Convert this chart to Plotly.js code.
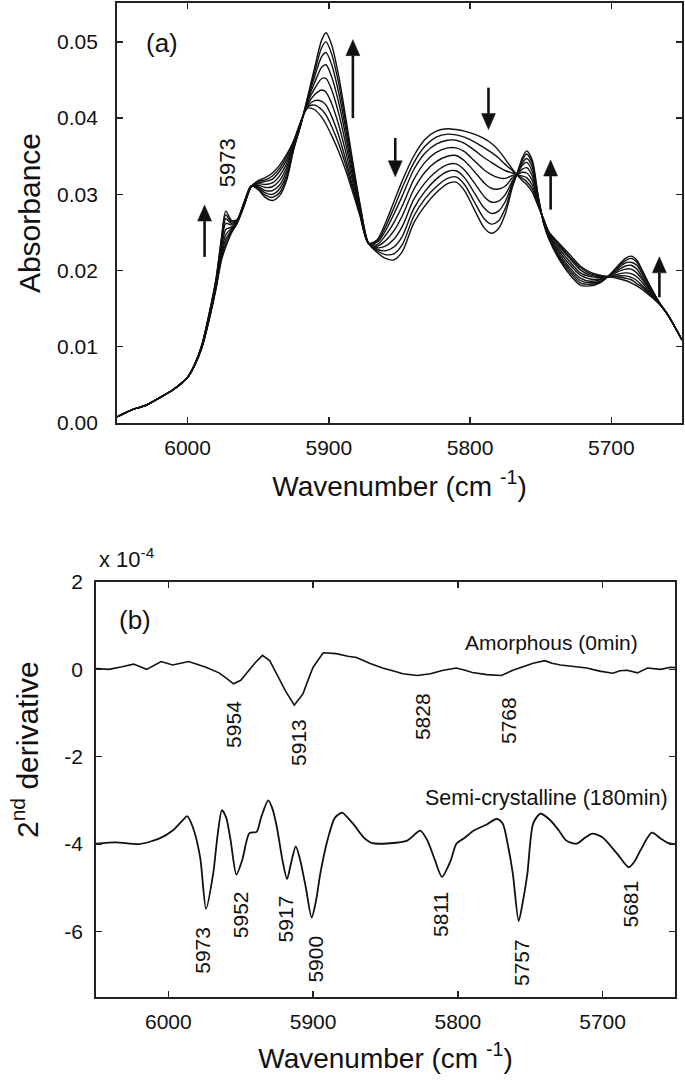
<!DOCTYPE html>
<html><head><meta charset="utf-8">
<script src="https://cdn.plot.ly/plotly-3.0.1.min.js"></script>
<style>html,body{margin:0;padding:0;background:#fff}#chart{width:685px;height:1085px}</style>
</head><body><div id="chart"></div>
<script>
// ---------- Panel (a): NIR absorbance spectra, 0 min ... 180 min ----------
const wavenumber = [6050,6040,6030,6020,6010,6000,5995,5990,5985,5980,5976,5973,5969,5965,5960,5955,5950,5945,5940,5935,5930,5925,5920,5915,5910,5905,5902,5898,5893,5888,5883,5878,5872,5866,5860,5854,5848,5840,5832,5824,5816,5810,5804,5797,5790,5785,5780,5775,5770,5767,5763,5760,5756,5752,5748,5744,5738,5730,5722,5715,5708,5702,5696,5690,5686,5682,5678,5672,5666,5660,5655,5650];

const abs_t0 = [0.0008,0.0017,0.0023,0.0033,0.0044,0.0060,0.0076,0.0098,0.0133,0.0175,0.0214,0.0231,0.0249,0.0262,0.0285,0.0310,0.0318,0.0322,0.0328,0.0338,0.0352,0.0370,0.0395,0.0413,0.0411,0.0401,0.0392,0.0377,0.0356,0.0331,0.0302,0.0272,0.0236,0.0240,0.0262,0.0290,0.0318,0.0350,0.0372,0.0383,0.0386,0.0385,0.0383,0.0379,0.0373,0.0367,0.0358,0.0346,0.0333,0.0326,0.0318,0.0313,0.0303,0.0285,0.0268,0.0250,0.0238,0.0222,0.0206,0.0198,0.0194,0.0192,0.0190,0.0187,0.0184,0.0180,0.0175,0.0166,0.0156,0.0142,0.0126,0.0109];
const abs_t1 = [0.0008,0.0017,0.0023,0.0033,0.0044,0.0060,0.0076,0.0098,0.0134,0.0176,0.0217,0.0236,0.0251,0.0262,0.0285,0.0310,0.0317,0.0319,0.0324,0.0334,0.0349,0.0369,0.0395,0.0415,0.0417,0.0411,0.0404,0.0389,0.0366,0.0338,0.0306,0.0274,0.0236,0.0238,0.0257,0.0282,0.0309,0.0341,0.0363,0.0375,0.0379,0.0378,0.0375,0.0369,0.0361,0.0355,0.0348,0.0339,0.0331,0.0326,0.0321,0.0317,0.0307,0.0287,0.0267,0.0249,0.0236,0.0219,0.0204,0.0196,0.0193,0.0192,0.0192,0.0190,0.0188,0.0183,0.0178,0.0167,0.0156,0.0142,0.0126,0.0109];
const abs_t2 = [0.0008,0.0017,0.0023,0.0033,0.0044,0.0060,0.0076,0.0099,0.0135,0.0178,0.0220,0.0241,0.0253,0.0263,0.0286,0.0310,0.0315,0.0317,0.0320,0.0330,0.0345,0.0367,0.0394,0.0416,0.0423,0.0422,0.0417,0.0402,0.0377,0.0345,0.0310,0.0275,0.0236,0.0237,0.0252,0.0274,0.0298,0.0332,0.0354,0.0366,0.0371,0.0371,0.0367,0.0358,0.0348,0.0342,0.0336,0.0331,0.0328,0.0326,0.0324,0.0322,0.0312,0.0288,0.0267,0.0248,0.0234,0.0217,0.0201,0.0194,0.0192,0.0192,0.0193,0.0193,0.0191,0.0187,0.0180,0.0169,0.0156,0.0142,0.0126,0.0109];
const abs_t3 = [0.0008,0.0017,0.0023,0.0033,0.0044,0.0060,0.0076,0.0099,0.0136,0.0180,0.0224,0.0247,0.0255,0.0264,0.0287,0.0310,0.0314,0.0313,0.0315,0.0324,0.0340,0.0366,0.0393,0.0418,0.0431,0.0437,0.0434,0.0419,0.0391,0.0355,0.0316,0.0278,0.0236,0.0234,0.0246,0.0263,0.0285,0.0319,0.0342,0.0355,0.0361,0.0361,0.0356,0.0344,0.0332,0.0326,0.0322,0.0321,0.0325,0.0326,0.0329,0.0328,0.0318,0.0290,0.0266,0.0247,0.0231,0.0213,0.0197,0.0192,0.0191,0.0192,0.0195,0.0197,0.0196,0.0192,0.0184,0.0170,0.0157,0.0142,0.0126,0.0109];
const abs_t4 = [0.0008,0.0017,0.0023,0.0033,0.0044,0.0060,0.0076,0.0100,0.0137,0.0181,0.0229,0.0254,0.0257,0.0264,0.0287,0.0310,0.0312,0.0309,0.0310,0.0318,0.0335,0.0364,0.0393,0.0421,0.0439,0.0452,0.0452,0.0437,0.0406,0.0366,0.0322,0.0280,0.0236,0.0232,0.0239,0.0252,0.0272,0.0306,0.0329,0.0343,0.0350,0.0351,0.0344,0.0330,0.0315,0.0308,0.0307,0.0311,0.0322,0.0326,0.0333,0.0335,0.0324,0.0293,0.0265,0.0245,0.0228,0.0209,0.0194,0.0189,0.0189,0.0192,0.0198,0.0202,0.0202,0.0197,0.0188,0.0172,0.0157,0.0142,0.0126,0.0109];
const abs_t5 = [0.0008,0.0017,0.0023,0.0033,0.0044,0.0060,0.0077,0.0101,0.0139,0.0183,0.0234,0.0262,0.0260,0.0265,0.0288,0.0311,0.0310,0.0305,0.0305,0.0312,0.0330,0.0362,0.0392,0.0423,0.0447,0.0467,0.0470,0.0454,0.0420,0.0376,0.0328,0.0282,0.0236,0.0230,0.0232,0.0241,0.0258,0.0293,0.0315,0.0330,0.0339,0.0340,0.0332,0.0315,0.0297,0.0290,0.0291,0.0300,0.0318,0.0326,0.0338,0.0342,0.0330,0.0295,0.0264,0.0244,0.0225,0.0205,0.0190,0.0186,0.0188,0.0193,0.0200,0.0206,0.0207,0.0202,0.0191,0.0174,0.0157,0.0142,0.0126,0.0109];
const abs_t6 = [0.0008,0.0017,0.0023,0.0033,0.0044,0.0060,0.0077,0.0101,0.0140,0.0185,0.0237,0.0268,0.0262,0.0266,0.0289,0.0311,0.0309,0.0302,0.0300,0.0307,0.0325,0.0361,0.0391,0.0425,0.0455,0.0481,0.0486,0.0470,0.0433,0.0385,0.0333,0.0284,0.0236,0.0228,0.0226,0.0231,0.0245,0.0281,0.0304,0.0320,0.0330,0.0331,0.0322,0.0302,0.0282,0.0275,0.0278,0.0291,0.0315,0.0326,0.0341,0.0347,0.0336,0.0297,0.0263,0.0242,0.0222,0.0202,0.0187,0.0184,0.0186,0.0193,0.0202,0.0210,0.0211,0.0207,0.0195,0.0175,0.0158,0.0142,0.0126,0.0109];
const abs_t7 = [0.0008,0.0017,0.0023,0.0033,0.0044,0.0060,0.0077,0.0102,0.0141,0.0187,0.0241,0.0273,0.0264,0.0266,0.0289,0.0311,0.0307,0.0299,0.0296,0.0302,0.0321,0.0359,0.0391,0.0427,0.0461,0.0493,0.0500,0.0484,0.0445,0.0393,0.0338,0.0286,0.0236,0.0226,0.0221,0.0222,0.0234,0.0271,0.0294,0.0310,0.0321,0.0323,0.0313,0.0290,0.0268,0.0261,0.0265,0.0282,0.0312,0.0326,0.0345,0.0353,0.0341,0.0299,0.0263,0.0241,0.0220,0.0199,0.0184,0.0182,0.0185,0.0193,0.0204,0.0213,0.0216,0.0211,0.0198,0.0177,0.0158,0.0142,0.0126,0.0109];
const abs_t8 = [0.0008,0.0017,0.0023,0.0033,0.0044,0.0060,0.0077,0.0102,0.0142,0.0188,0.0244,0.0278,0.0266,0.0267,0.0290,0.0311,0.0306,0.0296,0.0292,0.0298,0.0318,0.0358,0.0390,0.0428,0.0467,0.0503,0.0512,0.0496,0.0455,0.0400,0.0342,0.0288,0.0236,0.0224,0.0216,0.0214,0.0225,0.0262,0.0285,0.0302,0.0314,0.0316,0.0305,0.0280,0.0256,0.0249,0.0255,0.0275,0.0310,0.0326,0.0348,0.0357,0.0345,0.0300,0.0262,0.0240,0.0218,0.0196,0.0181,0.0180,0.0184,0.0193,0.0205,0.0216,0.0219,0.0214,0.0200,0.0178,0.0158,0.0142,0.0126,0.0109];
const spectra = [abs_t0, abs_t1, abs_t2, abs_t3, abs_t4, abs_t5, abs_t6, abs_t7, abs_t8];

// ---------- Panel (b): second derivative (units of 1e-4) ----------
const wn_amorphous = [6050,6041,6032,6024,6015,6005,5997,5986,5974,5965,5960,5955,5950,5946,5940,5935,5930,5926,5919,5913,5907,5903,5900,5893,5884,5876,5870,5861,5852,5845,5838,5828,5819,5810,5801,5795,5790,5780,5770,5762,5755,5748,5740,5735,5729,5720,5711,5702,5693,5688,5683,5676,5669,5660,5653,5650];
const d2_amorphous = [0.02,0.0,0.06,0.12,0.0,0.18,0.1,0.18,0.05,-0.08,-0.2,-0.33,-0.25,-0.09,0.15,0.32,0.2,-0.05,-0.5,-0.82,-0.56,-0.2,0.05,0.38,0.36,0.3,0.27,0.14,0.03,-0.03,-0.1,-0.14,-0.1,-0.02,0.03,-0.02,-0.07,-0.12,-0.14,-0.02,0.06,0.14,0.2,0.14,0.1,0.06,0.03,-0.04,-0.09,-0.03,-0.02,-0.08,0.03,0.0,0.05,0.04];
const wn_semicryst = [6050,6036,6020,6006,5997,5990,5987,5983,5978,5974,5969,5966,5963,5960,5957,5953,5949,5944,5939,5936,5931,5928,5925,5921,5918,5915,5912,5909,5905,5901,5898,5895,5890,5885,5880,5876,5872,5865,5859,5847,5835,5826,5821,5816,5811,5805,5801,5795,5789,5780,5773,5769,5765,5762,5758,5755,5752,5748,5743,5736,5730,5725,5718,5712,5707,5700,5690,5682,5678,5674,5666,5660,5655,5650];
const d2_semicryst = [-3.99,-3.96,-4.0,-3.87,-3.69,-3.45,-3.36,-3.62,-4.31,-5.48,-4.67,-3.8,-3.22,-3.4,-3.91,-4.7,-4.37,-3.75,-3.72,-3.4,-3.0,-3.2,-3.62,-4.4,-4.8,-4.4,-4.05,-4.35,-5.0,-5.68,-5.3,-4.67,-3.9,-3.4,-3.28,-3.4,-3.55,-3.85,-3.98,-3.98,-3.92,-3.69,-3.92,-4.35,-4.75,-4.38,-3.99,-3.85,-3.69,-3.55,-3.42,-3.53,-4.1,-4.68,-5.76,-5.3,-4.68,-3.53,-3.3,-3.46,-3.7,-3.92,-3.99,-3.85,-3.76,-3.85,-4.22,-4.53,-4.4,-4.15,-3.74,-3.87,-3.97,-4.0];

// peak labels (b)
const amorphousPeaks = [5954, 5913, 5828, 5768];
const crystPeaks = [5973, 5952, 5917, 5900, 5811, 5757, 5681];

const yTicksA = [0, 0.01, 0.02, 0.03, 0.04, 0.05];
const yTicksB = [-6, -4, -2, 0, 2];
const yTickTextB = ['-6', '-4', '-2', '0', '2'];
const xTicks = [6000, 5900, 5800, 5700];

const FONT = 'Liberation Sans, Arial, Helvetica, sans-serif';
const traces = [];
spectra.forEach((s, i) => {
  traces.push({x: wavenumber, y: s, xaxis: 'x', yaxis: 'y', mode: 'lines',
    line: {color: '#111', width: 1.4, shape: 'spline', smoothing: 0.8},
    hoverinfo: 'skip', showlegend: false});
});
traces.push({x: wn_amorphous, y: d2_amorphous, xaxis: 'x2', yaxis: 'y2', mode: 'lines',
  line: {color: '#111', width: 1.6}, showlegend: false, name: 'Amorphous (0min)'});
traces.push({x: wn_semicryst, y: d2_semicryst, xaxis: 'x2', yaxis: 'y2', mode: 'lines',
  line: {color: '#111', width: 1.8, shape: 'spline', smoothing: 0.7}, showlegend: false, name: 'Semi-crystalline (180min)'});

const axisCommon = {showline: true, linecolor: '#222', linewidth: 1.8, mirror: 'ticks', ticks: 'inside',
  ticklen: 6, tickwidth: 1.3, tickcolor: '#222', showgrid: false, zeroline: false,
  tickfont: {family: FONT, size: 21, color: '#111'}};

// arrows of panel (a) as shapes: [x, y of head tip, y of tail]
const arrowsA = [[5988, 0.0286, 0.0218], [5883, 0.0503, 0.0400], [5853, 0.0323, 0.0374],
                 [5787, 0.0385, 0.0440], [5743, 0.0345, 0.0280], [5666, 0.0218, 0.0165]];
const pxPerX = 565 / 400, pxPerY = 420 / 0.0551;
const shapes = [];
arrowsA.forEach(a => {
  const x = a[0], yh = a[1], yt = a[2];
  const dir = yh > yt ? 1 : -1;
  const hl = 16 / pxPerY, hw = 7 / pxPerX;
  const yb = yh - dir * hl;
  shapes.push({type: 'line', xref: 'x', yref: 'y', x0: x, x1: x, y0: yt, y1: yb, line: {color: '#111', width: 2.6}});
  shapes.push({type: 'path', xref: 'x', yref: 'y', path: `M ${x - hw},${yb} L ${x + hw},${yb} L ${x},${yh} Z`,
    fillcolor: '#111', line: {color: '#111', width: 0.5}});
});

const ann = [];
ann.push({x: 6018, y: 0.0499, xref: 'x', yref: 'y', text: '(a)', showarrow: false, font: {family: FONT, size: 26, color: '#111'}});
ann.push({x: 5972, y: 0.0341, xref: 'x', yref: 'y', text: '5973', textangle: -90, showarrow: false, font: {family: FONT, size: 22, color: '#111'}});
// (b) labels
ann.push({x: 6023, y: 1.13, xref: 'x2', yref: 'y2', text: '(b)', showarrow: false, font: {family: FONT, size: 26, color: '#111'}});
ann.push({x: 5735, y: 0.62, xref: 'x2', yref: 'y2', text: 'Amorphous (0min)', showarrow: false, font: {family: FONT, size: 21, color: '#111'}});
ann.push({x: 5739, y: -2.95, xref: 'x2', yref: 'y2', text: 'Semi-crystalline (180min)', showarrow: false, font: {family: FONT, size: 21.5, color: '#111'}});
const amorphLabelPos = [[5955, -1.26], [5910, -1.67], [5824, -1.09], [5765, -1.17]];
amorphousPeaks.forEach((p, i) => ann.push({x: amorphLabelPos[i][0], y: amorphLabelPos[i][1], xref: 'x2', yref: 'y2',
  text: String(p), textangle: -90, showarrow: false, font: {family: FONT, size: 21, color: '#111'}}));
const crystLabelPos = [[5976, -6.44], [5950, -5.61], [5919, -5.71], [5898, -6.62], [5812, -5.61], [5756, -6.71], [5681, -5.38]];
crystPeaks.forEach((p, i) => ann.push({x: crystLabelPos[i][0], y: crystLabelPos[i][1], xref: 'x2', yref: 'y2',
  text: String(p), textangle: -90, showarrow: false, font: {family: FONT, size: 21, color: '#111'}}));
ann.push({x: 0.141, y: 0.4857, xref: 'paper', yref: 'paper', xanchor: 'left', yanchor: 'middle',
  text: 'x 10<sup>-4</sup>', showarrow: false, font: {family: FONT, size: 22, color: '#111'}});
// y title of panel (b), placed like the reference (above the panel centre)
ann.push({x: 25 / 685, y: 1 - 750 / 1085, xref: 'paper', yref: 'paper', xanchor: 'center', yanchor: 'middle', textangle: -90,
  text: '2<sup>nd</sup> derivative', showarrow: false, font: {family: FONT, size: 30, color: '#111'}});

const layout = {
  width: 685, height: 1085, margin: {l: 0, r: 0, t: 0, b: 0}, paper_bgcolor: '#fff', plot_bgcolor: '#fff',
  font: {family: FONT, color: '#111'},
  showlegend: false,
  xaxis: Object.assign({}, axisCommon, {domain: [0.1708, 0.9956], anchor: 'y', range: [6050, 5650], tickvals: xTicks, ticklabelstandoff: 5,
    title: {text: 'Wavenumber (cm <sup>-1</sup>)', font: {family: FONT, size: 28, color: '#111'}, standoff: 18}}),
  yaxis: Object.assign({}, axisCommon, {domain: [0.6101, 0.9972], anchor: 'x', range: [0, 0.0551], tickvals: yTicksA, tickformat: '.2f', ticklabelstandoff: 13,
    title: {text: 'Absorbance', font: {family: FONT, size: 30, color: '#111'}, standoff: 8}}),
  xaxis2: Object.assign({}, axisCommon, {domain: [0.1401, 0.9854], anchor: 'y2', range: [6050, 5650], tickvals: xTicks, ticklabelstandoff: 5,
    title: {text: 'Wavenumber (cm <sup>-1</sup>)', font: {family: FONT, size: 28, color: '#111'}, standoff: 16}}),
  yaxis2: Object.assign({}, axisCommon, {domain: [0.0811, 0.4636], anchor: 'x2', range: [-7.5, 2], tickvals: yTicksB, ticktext: yTickTextB, ticklabelstandoff: 7}),
  shapes: shapes,
  annotations: ann
};
Plotly.newPlot('chart', traces, layout, {staticPlot: true, displayModeBar: false});
</script></body></html>
